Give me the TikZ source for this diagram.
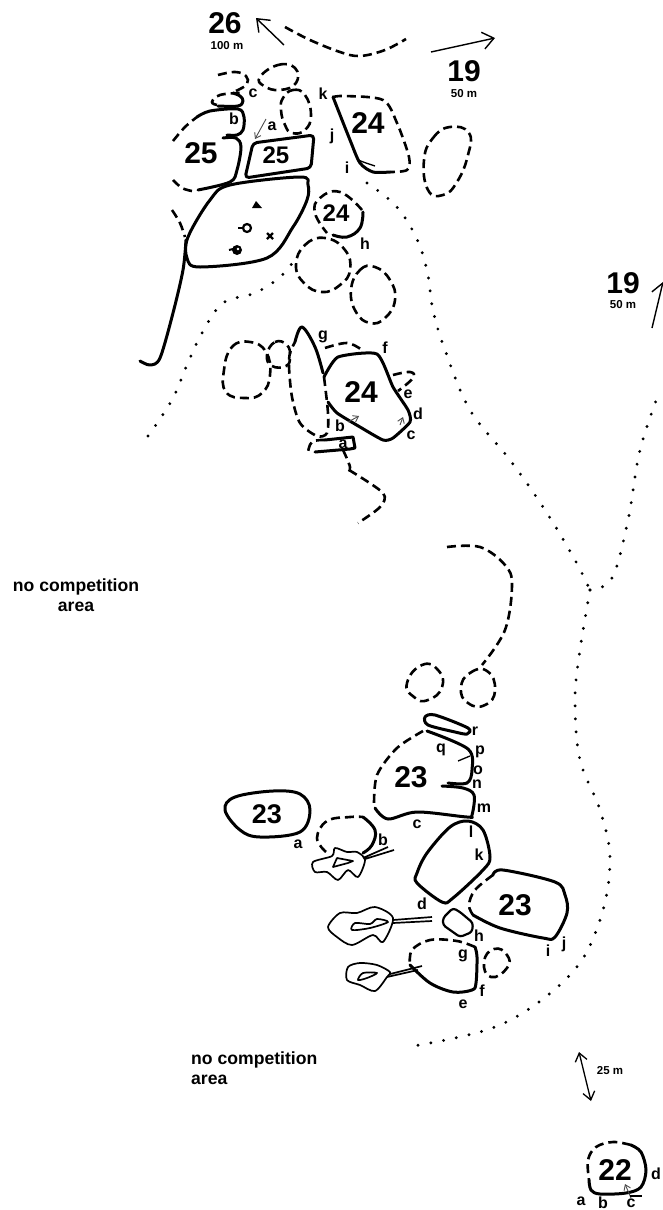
\documentclass[tikz,border=0pt]{standalone}
\usepackage{fontspec}
\setmainfont{Liberation Sans}
\usetikzlibrary{arrows.meta}

\tikzset{
  rock/.style={black,line width=3pt,line cap=round,line join=round},
  broken/.style={black,line width=2.6pt,dash pattern=on 9pt off 5pt},
  dots/.style={black,line width=3.2pt,line cap=round,dash pattern=on 0pt off 13pt},
  thinline/.style={black,line width=1.3pt,line join=round},
  pond/.style={black,line width=1.7pt,line join=round},
  bigarrow/.style={black,line width=1.4pt,-{Straight Barb[length=11pt,width=17pt]}},
  tinyarrow/.style={black!70,line width=.9pt,-{Straight Barb[length=5pt,width=7pt]}},
  bignum/.style={font=\fontsize{30}{30}\bfseries\selectfont,inner sep=0pt},
  midnum/.style={font=\fontsize{24}{24}\bfseries\selectfont,inner sep=0pt},
  dist/.style={font=\fontsize{11.5}{12}\bfseries\selectfont,inner sep=0pt},
  ltr/.style={font=\fontsize{16}{16}\bfseries\selectfont,inner sep=0pt},
  note/.style={font=\fontsize{17.6}{20}\bfseries\selectfont,inner sep=0pt},
}

\begin{document}
\begin{tikzpicture}[x=1pt,y=-1pt]
\useasboundingbox (0,0) rectangle (663,1210);

% distances
\node[bignum] (n26) at (225,23) {26};
\node[dist] (d26) at (227,46) {100 m};
\node[bignum] (n19a) at (464,71) {19};
\node[dist] (d19a) at (464,94) {50 m};
\node[bignum] (n19b) at (623,283) {19};
\node[dist] (d19b) at (623,305) {50 m};
\node[dist] (d25) at (610,1071) {25 m};
\node[note,align=center] (nca) at (76,595) {no competition\\area};
\node[note,align=left,anchor=west] (ncb) at (191,1068) {no competition\\area};

\coordinate (a26s) at (284,45);
\coordinate (a26e) at (256,18);
\coordinate (a19s) at (431,52);
\coordinate (a19e) at (495,38);
\coordinate (b19s) at (652,328);
\coordinate (b19e) at (663,282);
\coordinate (m25s) at (579,1052);
\coordinate (m25e) at (591,1101);
\draw[bigarrow] (a26s) -- (a26e);
\draw[bigarrow] (a19s) -- (a19e);
\draw[bigarrow] (b19s) -- (b19e);
\draw[thinline,{Straight Barb[length=8pt,width=12pt]}-{Straight Barb[length=8pt,width=12pt]}] (m25s) -- (m25e);

% top part
\draw[broken] plot[smooth,tension=.6] coordinates {(285,27) (310,40) (340,52) (360,56) (385,50) (406,39)};
\draw[broken] plot[smooth,tension=.7] coordinates {(218,75) (235,72) (246,76) (247,84) (238,90) (233,92)};
\draw[rock] plot[smooth,tension=.6] coordinates {(218,106) (238,106) (243,101) (240,96) (233,93)};
\draw[broken] plot[smooth,tension=.7] coordinates {(217,105) (212,102) (220,95) (240,93)};
\draw[broken] plot[smooth cycle,tension=.8] coordinates {(260,77) (278,65) (295,68) (296,83) (280,90) (264,86)};
\draw[broken] plot[smooth cycle,tension=.8] coordinates {(283,98) (293,90) (305,95) (311,115) (305,130) (292,133) (285,125) (281,110)};
\draw[broken] plot[smooth cycle,tension=.8] coordinates {(424,160) (433,138) (450,127) (469,133) (468,155) (457,182) (443,195) (428,190)};

% rock 25
\draw[broken] plot[smooth,tension=.6] coordinates {(173,141) (185,127) (197,117)};
\draw[rock] plot[smooth,tension=.55] coordinates {(197,117) (210,111) (238,109) (244,117) (243,130) (237,135) (227,135)};
\draw[rock] plot[smooth,tension=.55] coordinates {(223,138) (236,138) (241,147) (237,170) (230,182) (198,190)};
\draw[broken] plot[smooth,tension=.6] coordinates {(192,191) (182,188) (173,180)};
\node[bignum] (n25a) at (201,153) {25};
\draw[rock,rounded corners=4pt] (253,143) -- (314,135) -- (311,168) -- (245,178) -- cycle;
\node[midnum] (n25b) at (276,155) {25};
\coordinate (a25s) at (266,119);
\coordinate (a25e) at (255,139);
\draw[tinyarrow] (a25s) -- (a25e);
\node[ltr] (lc1) at (253,93) {c};
\node[ltr] (lb1) at (234,119) {b};
\node[ltr] (la1) at (272,126) {a};

% big rock with symbols
\draw[rock] plot[smooth cycle,tension=.55] coordinates {(230,185) (300,177) (308,185) (307,200) (293,227) (267,258) (200,267) (187,258) (188,237) (210,200)};
\draw[broken] plot[smooth,tension=.6] coordinates {(172,210) (180,223) (185,237)};
\draw[rock] plot[smooth,tension=.5] coordinates {(186,240) (183,270) (173,313) (160,358) (150,365) (140,361)};
\fill[black] (252,208) -- (256,201) -- (262,208) -- cycle;
\draw[thinline,line width=2.2pt] (247,228) circle (4pt);
\draw[thinline,line width=2pt] (243,228) -- (238,228);
\draw[line width=2.4pt] (267,233) -- (273,239) (273,233) -- (267,239);
\fill[black] (237,250) circle (5pt);
\draw[line width=2pt] (233,249) -- (229,250);
\fill[white] (238,249) circle (1.3pt);

% rock 24 upper
\draw[rock] plot[smooth,tension=.45] coordinates {(333,97) (350,140) (360,163) (373,172) (390,172)};
\draw[thinline] (358,160) -- (366,163) -- (375,166);
\draw[broken] plot[smooth,tension=.5] coordinates {(333,97) (345,96) (383,100) (397,123) (409,157) (407,170) (390,172)};
\node[bignum] (n24a) at (368,123) {24};
\node[ltr] (lk1) at (323,94) {k};
\node[ltr] (lj1) at (332,136) {j};
\node[ltr] (li1) at (347,168) {i};

% rock 24 small
\draw[broken] plot[smooth,tension=.8] coordinates {(362,210) (340,192) (320,198) (315,213) (327,233)};
\draw[rock] plot[smooth,tension=.7] coordinates {(333,235) (347,237) (360,228) (363,212)};
\node[midnum] (n24b) at (336,213) {24};
\node[ltr] (lh1) at (365,244) {h};

\draw[broken] plot[smooth cycle,tension=.8] coordinates {(296,265) (305,245) (325,238) (345,250) (350,270) (340,285) (322,292) (304,283)};
\draw[broken] plot[smooth cycle,tension=.8] coordinates {(351,290) (360,270) (375,267) (390,280) (395,300) (385,318) (370,323) (356,312)};
\draw[broken] plot[smooth cycle,tension=.8] coordinates {(224,370) (232,347) (250,342) (266,352) (270,375) (262,393) (245,398) (226,392)};
\draw[broken] plot[smooth cycle,tension=.8] coordinates {(267,355) (275,342) (287,345) (290,357) (286,366) (272,366)};

% dotted paths
\draw[dots] plot[smooth,tension=.6] coordinates {(148,436) (172,400) (187,365) (202,333) (223,303) (255,293) (280,277) (296,258)};
\draw[dots] plot[smooth,tension=.6] coordinates {(367,183) (395,205) (415,235) (427,270) (433,310) (445,350) (470,410) (510,460) (545,510) (575,560) (590,590)};
\draw[dots] plot[smooth,tension=.6] coordinates {(590,590) (612,578) (628,520) (640,450) (660,390)};
\draw[dots] plot[smooth,tension=.6] coordinates {(590,590) (580,650) (575,700) (580,760) (600,810) (610,860) (600,920) (570,975) (500,1025) (407,1047)};

% rock 24 middle
\draw[rock] plot[smooth,tension=.35] coordinates {(324,377) (338,357) (377,354) (393,387) (408,410) (410,422) (393,438) (383,440) (360,427) (337,413) (328,402)};
\draw[broken] plot[smooth,tension=.5] coordinates {(324,377) (328,413) (327,433) (317,436) (300,423) (292,397) (289,367) (290,353) (295,342)};
\draw[rock] plot[smooth,tension=.6] coordinates {(295,342) (302,327) (315,347) (323,373)};
\draw[broken] plot[smooth,tension=.6] coordinates {(325,348) (347,343) (362,350)};
\draw[broken] plot[smooth,tension=.7] coordinates {(393,375) (410,372) (413,378) (398,391)};
\draw[rock,line join=round] (315,452) -- (350,449) -- (355,448) -- (353,437) -- (325,440);
\draw[broken] plot[smooth,tension=.7] coordinates {(325,440) (312,442) (308,453)};
\draw[broken] plot[smooth,tension=.6] coordinates {(343,450) (350,467) (347,474)};
\draw[broken] plot[smooth,tension=.5] coordinates {(349,470) (383,493) (380,507) (358,523)};
\coordinate (ab24s) at (348,422);
\coordinate (ab24e) at (359,416);
\coordinate (ac24s) at (400,425);
\coordinate (ac24e) at (403,417);
\draw[tinyarrow] (ab24s) -- (ab24e);
\draw[tinyarrow] (ac24s) -- (ac24e);
\node[bignum] (n24c) at (361,392) {24};
\node[ltr] (lg2) at (323,337) {g};
\node[ltr] (lf2) at (385,348) {f};
\node[ltr] (le2) at (408,394) {e};
\node[ltr] (ld2) at (418,414) {d};
\node[ltr] (lc2) at (411,435) {c};
\node[ltr] (lb2) at (340,426) {b};
\node[ltr] (la2) at (343,444) {a};

% dashed arc and circles above 23
\draw[broken] plot[smooth,tension=.6] coordinates {(447,547) (480,547) (505,565) (512,585) (505,630) (482,665)};
\draw[broken] plot[smooth cycle,tension=.9] coordinates {(407,683) (422,665) (438,670) (442,687) (428,700) (414,697)};
\draw[broken] plot[smooth cycle,tension=.9] coordinates {(461,688) (470,673) (487,671) (495,690) (485,705) (468,703)};

% rock 23 big
\draw[rock] plot[smooth cycle,tension=.5] coordinates {(425,717) (435,715) (468,728) (467,734) (455,732) (428,725)};
\draw[broken] plot[smooth,tension=.5] coordinates {(423,731) (397,748) (377,775) (374,805)};
\draw[rock] plot[smooth,tension=.55] coordinates {(375,808) (388,819) (417,812) (467,817) (472,815) (474,795) (463,788) (442,786)};
\draw[rock] plot[smooth,tension=.55] coordinates {(448,783) (467,783) (472,770) (468,749) (427,731)};
\draw[thinline] (458,761) -- (470,756);
\node[bignum] (n23a) at (411,777) {23};
\node[ltr] (lr3) at (475,731) {r};
\node[ltr] (lq3) at (441,750) {q};
\node[ltr] (lp3) at (480,752) {p};
\node[ltr] (lo3) at (478,770) {o};
\node[ltr] (ln3) at (477,784) {n};
\node[ltr] (lm3) at (484,808) {m};
\node[ltr] (ll3) at (471,832) {l};
\node[ltr] (lk3) at (479,855) {k};
\node[ltr] (lc3) at (417,824) {c};

% rock 23 left
\draw[rock] plot[smooth cycle,tension=.6] coordinates {(225,810) (235,797) (273,791) (300,794) (310,810) (300,832) (260,837) (240,830)};
\node[font=\fontsize{27}{27}\bfseries\selectfont,inner sep=0pt] (n23b) at (267,814) {23};
\node[ltr] (la3) at (298,844) {a};
\node[ltr] (lb3) at (383,840) {b};
\draw[broken] plot[smooth,tension=.7] coordinates {(326,852) (317,838) (327,821) (350,817) (363,817)};
\draw[rock] plot[smooth,tension=.7] coordinates {(363,817) (375,830) (372,845) (363,853)};

% ponds with streams
\draw[pond] plot[smooth cycle,tension=.5] coordinates {(313,862) (332,856) (335,848) (347,852) (357,852) (365,860) (358,877) (348,870) (338,880) (327,872) (315,872)};
\draw[pond] (333,867) -- (337,858) -- (353,861) -- (348,863) -- cycle;
\draw[pond] (363,858) -- (388,847) (365,859) -- (394,850);
\draw[pond] plot[smooth cycle,tension=.5] coordinates {(328,927) (340,913) (357,913) (375,907) (393,918) (383,942) (373,935) (352,945) (337,937)};
\draw[pond] plot[smooth cycle,tension=.5] coordinates {(352,930) (355,923) (370,924) (377,919) (388,922) (370,928)};
\draw[pond] (393,920) -- (432,917) (393,923) -- (432,921);
\draw[pond] plot[smooth cycle,tension=.5] coordinates {(347,980) (348,967) (360,963) (377,965) (390,972) (387,977) (375,991) (360,985)};
\draw[pond] plot[smooth cycle,tension=.5] coordinates {(358,980) (363,973) (377,973) (367,978)};
\draw[pond] (390,974) -- (422,966) (387,977) -- (418,970);

% rock 23 lower group
\draw[rock] plot[smooth cycle,tension=.55] coordinates {(427,853) (450,827) (468,821) (483,830) (490,857) (483,870) (453,898) (442,902) (417,883) (417,873)};
\draw[broken] plot[smooth,tension=.6] coordinates {(493,875) (475,890) (469,905) (473,915)};
\draw[rock] plot[smooth,tension=.55] coordinates {(473,915) (500,928) (543,938) (555,937) (567,913) (565,895) (555,882) (503,870) (493,875)};
\node[bignum] (n23c) at (515,905) {23};
\draw[thinline,line width=2.2pt,rounded corners=3pt] (443,918) -- (453,908) -- (460,912) -- (473,923) -- (472,932) -- (460,937) -- (443,925) -- cycle;
\draw[broken] plot[smooth,tension=.6] coordinates {(475,947) (457,941) (430,940) (412,950) (410,965)};
\draw[rock] plot[smooth,tension=.55] coordinates {(410,965) (430,983) (453,992) (472,990) (476,983) (477,957) (475,947)};
\draw[broken] plot[smooth cycle,tension=.9] coordinates {(484,962) (494,949) (507,955) (507,968) (491,977)};
\node[ltr] (ld3) at (422,904) {d};
\node[ltr] (lh3) at (479,936) {h};
\node[ltr] (lg3) at (463,956) {g};
\node[ltr] (lf3) at (482,991) {f};
\node[ltr] (le3) at (463,1004) {e};
\node[ltr] (li3) at (548,951) {i};
\node[ltr] (lj3) at (564,944) {j};

% rock 22
\draw[broken] plot[smooth,tension=.6] coordinates {(631,1145) (613,1142) (596,1147) (588,1160) (589,1180)};
\draw[rock] plot[smooth,tension=.55] coordinates {(589,1180) (591,1190) (600,1194) (626,1193) (641,1187) (646,1170) (641,1152) (631,1145)};
\node[bignum] (n22) at (615,1170) {22};
\coordinate (a22s) at (631,1198);
\coordinate (a22e) at (625,1184);
\draw[tinyarrow] (a22s) -- (a22e);
\draw[thinline] (630,1196) -- (642,1196);
\node[ltr] (ld4) at (656,1174) {d};
\node[ltr] (la4) at (581,1201) {a};
\node[ltr] (lb4) at (603,1203) {b};
\node[ltr] (lc4) at (631,1203) {c};
\end{tikzpicture}
\end{document}
